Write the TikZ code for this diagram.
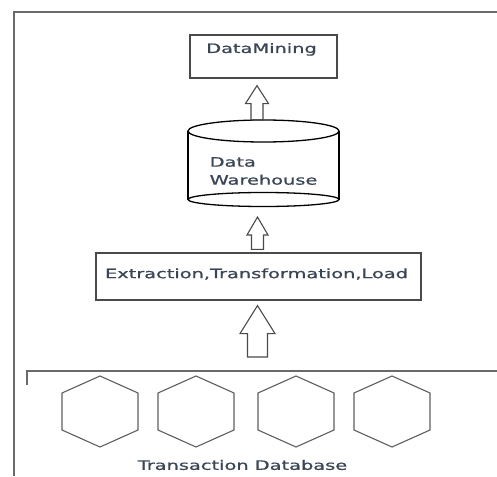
\documentclass[tikz,border=0pt]{standalone}
\usepackage{graphicx}
\usepackage{fontspec}
\usetikzlibrary{calc}
\newfontfamily\labelfont[BoldFont=DejaVu Sans, BoldFeatures={FakeBold=0.8}]{DejaVu Sans}
\definecolor{ink}{HTML}{3A4655}
\definecolor{frame}{HTML}{6A6A6A}
\definecolor{edge}{HTML}{4A4A4A}
\definecolor{hexedge}{HTML}{5E5E5E}
% wide, stretched label text
\newcommand\wide[1]{\scalebox{1.49}[1]{#1}}
% hollow block arrow pointing up: #1 bottom point, #2 top point, #3 shaft half width, #4 head half width, #5 head length
\newcommand\blockup[5]{%
  \draw[blockline] ($#1+(-#3,0)$) -- ($#2+(-#3,#5)$) -- ($#2+(-#4,#5)$) -- #2
    -- ($#2+(#4,#5)$) -- ($#2+(#3,#5)$) -- ($#1+(#3,0)$) -- cycle;}
\begin{document}
\begin{tikzpicture}[x=1pt,y=-1pt,
  txt/.style={font=\labelfont\bfseries\fontsize{13}{18}\selectfont, text=ink, inner sep=0pt},
  box/.style={draw=edge, line width=1.2pt, rectangle, inner sep=0pt},
  ghost/.style={rectangle, inner sep=0pt, outer sep=0pt},
  frameline/.style={draw=frame, line width=1.4pt},
  blockline/.style={draw=edge, line width=1.1pt, line join=miter},
  hexline/.style={draw=hexedge, line width=1.1pt},
  can/.style={draw=black, line width=1.3pt}]
\useasboundingbox (0,0) rectangle (497,476);

% outer frame and the frame of the source layer
\draw[frameline] (14,476) -- (14,12) -- (497,12);
\coordinate (srctop) at (257.5,371);
\draw[frameline] (27,385) -- (27,371) -- (497,371);

% data mining box
\node[box, minimum width=147pt, minimum height=43pt] (dm) at (263.5,56.5) {};
\node[txt] (dmtext) at ($(dm.north)+(-2,15)$) {\wide{DataMining}};

% data warehouse cylinder
\node[ghost, minimum width=151pt, minimum height=87pt] (dw) at (263.5,163.5) {};
\draw[can] ($(dw.north west)+(0,11)$) -- ($(dw.south west)+(0,-7.5)$);
\draw[can] ($(dw.north east)+(0,11)$) -- ($(dw.south east)+(0,-7.5)$);
\draw[can, fill=white] ($(dw.north)+(0,11)$) ellipse [x radius=75.5pt, y radius=11pt];
\draw[can] ($(dw.south)+(0,-7.5)$) ellipse [x radius=75.5pt, y radius=7pt];
\node[txt, align=left] (dwtext) at ($(dw.center)+(0,7.5)$) {\wide{Data}\\\wide{Warehouse}};

% extraction, transformation, load box
\node[box, minimum width=325pt, minimum height=47pt] (etl) at (258.5,276.5) {};
\node[txt] (etltext) at ($(etl.center)+(-2,-2.5)$) {\wide{Extraction,Transformation,Load}};

% transaction databases
\foreach \i/\x in {1/100,2/196,3/296,4/392}{
  \node[ghost, minimum width=76pt, minimum height=71pt] (h\i) at (\x,411.5) {};
  \draw[hexline] (h\i.north) -- ($(h\i.east)+(0,-18.5)$) -- ($(h\i.east)+(0,18.5)$)
    -- (h\i.south) -- ($(h\i.west)+(0,18.5)$) -- ($(h\i.west)+(0,-18.5)$) -- cycle;
}
\node[txt] (tdb) at (242.5,465) {\wide{Transaction Database}};

% flow arrows
\coordinate (a1b) at ($(dw.north)+(-6.5,0)$);
\coordinate (a1t) at ($(a1b |- dm.south)+(0,7)$);
\blockup{(a1b)}{(a1t)}{6}{11.5}{18}
\coordinate (a2b) at ($(etl.north)+(-1,-3)$);
\coordinate (a2t) at ($(a2b |- dw.south)+(0,10)$);
\blockup{(a2b)}{(a2t)}{6}{10.5}{18}
\coordinate (a3b) at ($(srctop)+(0,-14)$);
\coordinate (a3t) at ($(a3b |- etl.south)+(0,5)$);
\blockup{(a3b)}{(a3t)}{10}{17.5}{28}
\end{tikzpicture}
\end{document}
